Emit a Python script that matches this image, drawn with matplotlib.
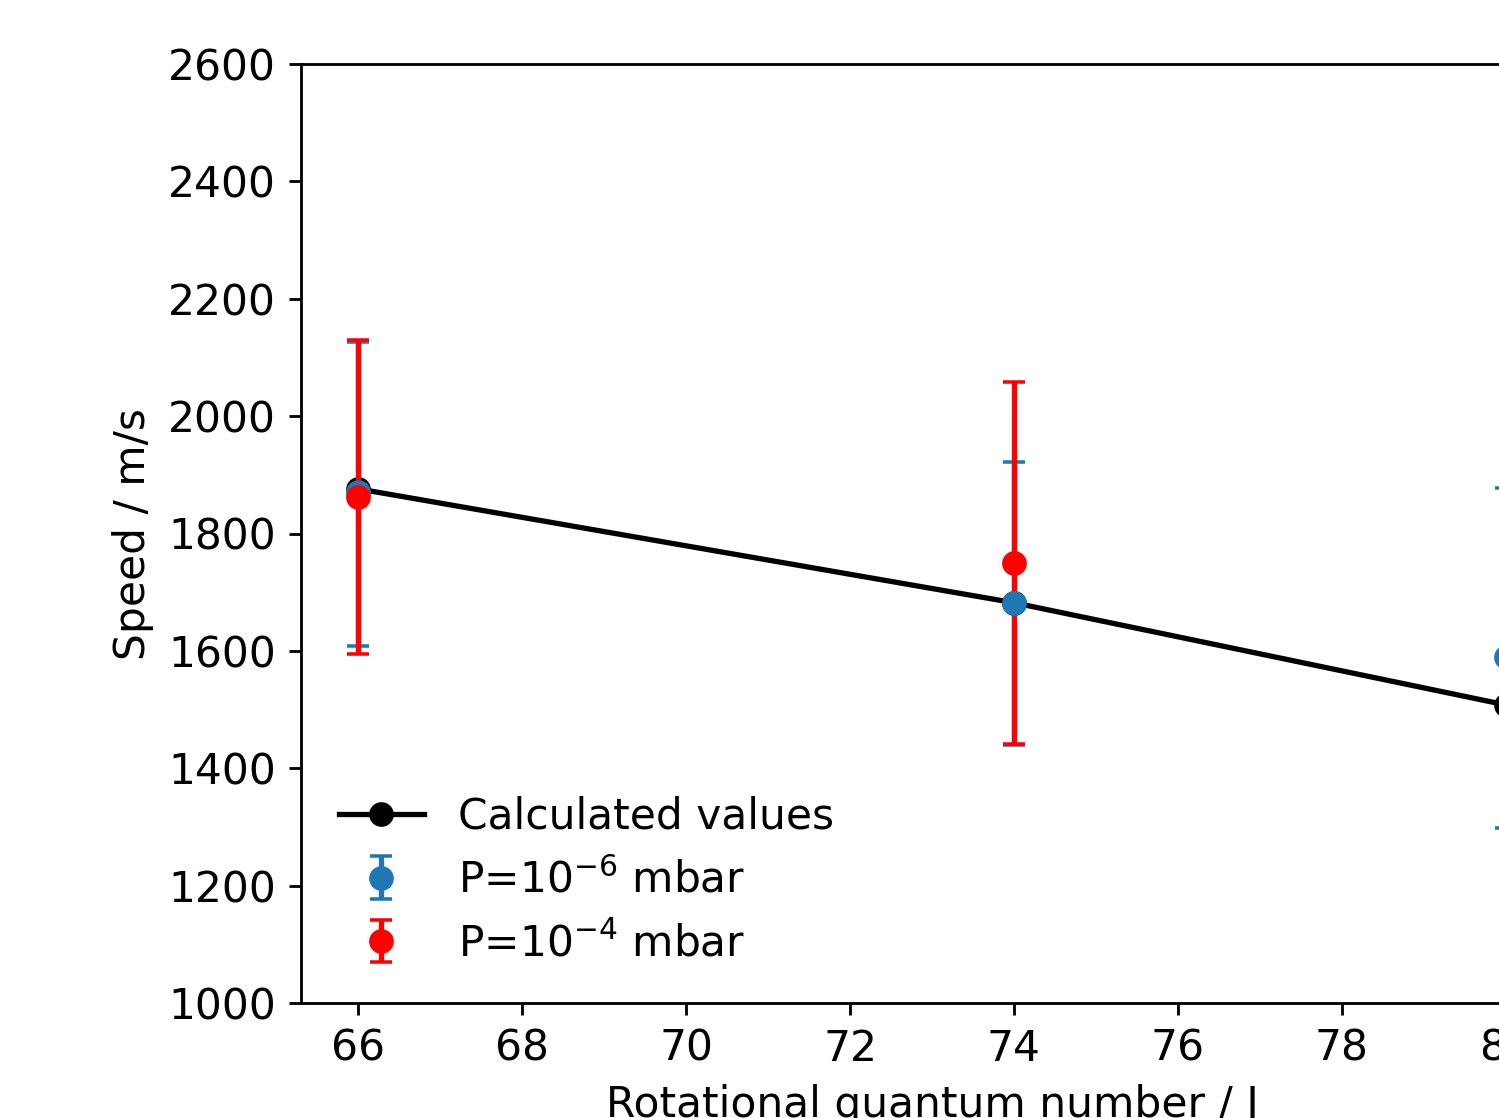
import matplotlib
matplotlib.use("Agg")
import matplotlib.pyplot as plt

J_calc = [66, 74, 80]
speed_calc = [1876, 1682, 1508]

J_low = [66, 74, 80]
speed_low = [1870, 1682, 1590]
err_low_minus = [262, 242, 292]
err_low_plus = [257, 240, 288]

J_high = [66, 74]
speed_high = [1862, 1750]
err_high_minus = [267, 308]
err_high_plus = [268, 308]

plt.rcParams['font.size'] = 12
dpi = 254
fig = plt.figure(figsize=(1499 / dpi, 1118 / dpi), dpi=dpi)
ax = fig.add_axes([301 / 1499, 115 / 1118, 1262 / 1499, 939 / 1118])

ax.plot(J_calc, speed_calc, 'o-', color='black', label='Calculated values')
ax.errorbar(J_low, speed_low, yerr=[err_low_minus, err_low_plus], fmt='o',
            color='#1f77b4', capsize=3, label=r'P=$10^{-6}$ mbar')
ax.errorbar(J_high, speed_high, yerr=[err_high_minus, err_high_plus], fmt='o',
            color='red', capsize=3, label=r'P=$10^{-4}$ mbar')

ax.set_ylim(1000, 2600)
ax.set_xticks([66, 68, 70, 72, 74, 76, 78, 80])
ax.set_xlabel('Rotational quantum number / J')
ax.set_ylabel('Speed / m/s')
ax.legend(loc='lower left', frameon=False)

fig.savefig('out.png', dpi=dpi)
